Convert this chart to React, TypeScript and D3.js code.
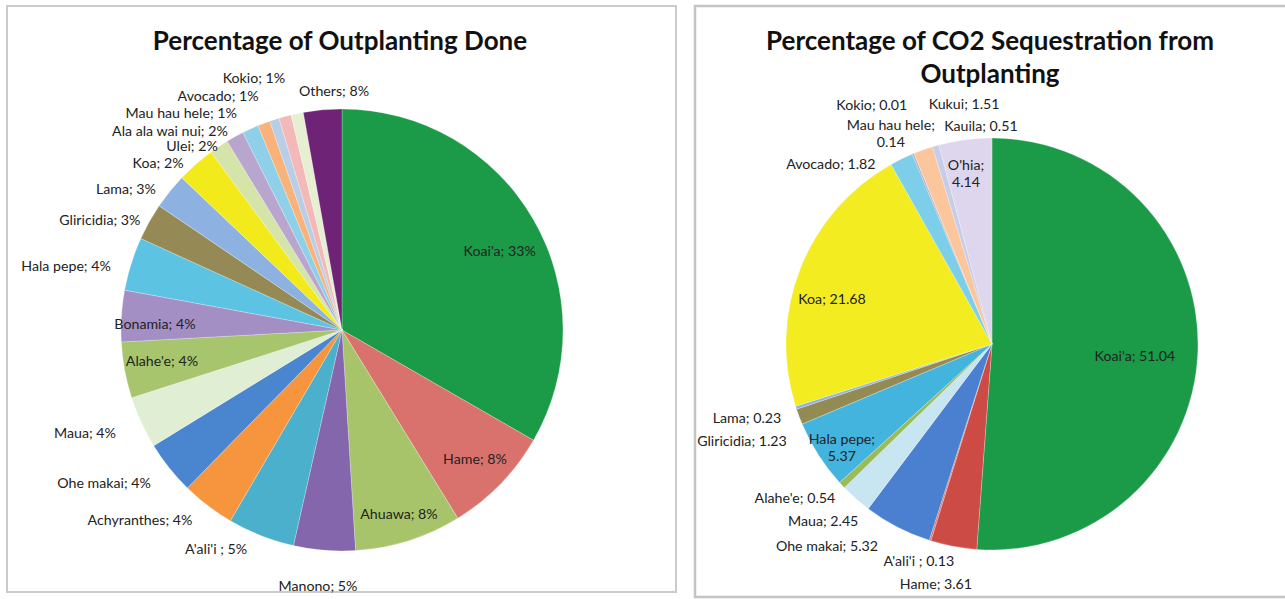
import React from 'react';
import * as d3 from 'd3';

// ---------- Left chart: Percentage of Outplanting Done ----------
const leftNames = ["Koai'a", "Hame", "Ahuawa", "Manono", "A'ali'i ", "Achyranthes", "Ohe makai", "Maua", "Alahe'e", "Bonamia", "Hala pepe", "Gliricidia", "Lama", "Koa", "Ulei", "Ala ala wai nui", "Mau hau hele", "Avocado", "Kokio", "", "", "Others"];
const leftValues = [33.3, 7.9, 7.8, 4.5, 4.9, 3.9, 3.9, 3.8, 4.1, 3.75, 3.9, 2.7, 2.6, 2.8, 1.4, 1.3, 1.2, 0.9, 0.7, 0.9, 0.9, 2.8];
const leftPctText = ["33%", "8%", "8%", "5%", "5%", "4%", "4%", "4%", "4%", "4%", "4%", "3%", "3%", "2%", "2%", "2%", "1%", "1%", "1%", "", "", "8%"];
const leftColors = ["#1b9a47", "#d9726d", "#a8c46b", "#8466ad", "#4bb0cc", "#f7953f", "#4a86cf", "#e0eed4", "#a7c56d", "#a48fc4", "#5cc3e3", "#958a55", "#8db2e2", "#f3ea1b", "#d5e4a8", "#b8a6cf", "#8fd0e8", "#f9b27a", "#b8cde6", "#f2b9b8", "#e6efd2", "#6e2377"];
// label layout: [angle in degrees clockwise from 12 o'clock, distance as fraction of radius]
const leftLabelPolar = [[63.1, 0.80], [133.9, 0.835], [162.7, 0.867], [185.4, 1.159], [210.0, 1.139], [226.9, 1.252], [237.4, 1.278], [248.4, 1.251], [260.5, 0.826], [272.1, 0.847], [283.3, 1.283], [294.6, 1.205], [303.3, 1.17], [312.4, 1.127], [321.0, 1.078], [319.3, 1.194], [323.6, 1.226], [332.2, 1.202], [340.8, 1.212], [0, 0], [0, 0], [358.1, 1.087]];

// ---------- Right chart: Percentage of CO2 Sequestration ----------
const rightNames = ["Koai'a", "Hame", "A'ali'i ", "Ohe makai", "Maua", "Alahe'e", "Hala pepe", "Gliricidia", "Lama", "Koa", "Avocado", "Mau hau hele", "Kokio", "Kukui", "Kauila", "O'hia"];
const rightValues = [51.04, 3.61, 0.13, 5.32, 2.45, 0.54, 5.37, 1.23, 0.23, 21.68, 1.82, 0.14, 0.01, 1.51, 0.51, 4.14];
const rightColors = ["#1b9a47", "#cd4b45", "#d9726d", "#4a80cf", "#c7e6f1", "#9bbb59", "#42b4dd", "#948a54", "#8db2e2", "#f3ec20", "#7dcfe9", "#b3a2c7", "#c0c0c0", "#fbc69b", "#c6cde8", "#ddd6ec"];
const rightLabelPolar = [[94.4, 0.696], [193.2, 1.192], [198.7, 1.107], [219.4, 1.262], [223.8, 1.184], [232.2, 1.211], [235.8, 0.881], [249.0, 1.30], [253.4, 1.241], [286.0, 0.808], [318.3, 1.176], [334.4, 1.136], [333.4, 1.303], [353.4, 1.178], [357.1, 1.065], [351.4, 0.844]];
const rightTwoLine = [false, false, false, false, false, false, true, false, false, false, false, true, false, false, false, true];

const FONT = "Lato, 'Open Sans', sans-serif";

type PieProps = {
  cx: number; cy: number; r: number;
  values: number[]; colors: string[];
  labels: string[][]; polar: number[][];
};

function Pie({ cx, cy, r, values, colors, labels, polar }: PieProps) {
  const pie = d3.pie<number>().sort(null).value((d) => d).startAngle(0).endAngle(2 * Math.PI);
  const arcs = pie(values);
  const arc = d3.arc<d3.PieArcDatum<number>>().innerRadius(0).outerRadius(r);
  return (
    <g>
      <g transform={`translate(${cx},${cy})`}>
        {arcs.map((a, i) => (
          <path key={i} d={arc(a) || ''} fill={colors[i]} stroke="rgba(255,255,255,0.35)" strokeWidth={0.7} />
        ))}
      </g>
      {labels.map((lines, i) => {
        if (!lines.length) return null;
        const ang = (polar[i][0] * Math.PI) / 180;
        const x = cx + Math.sin(ang) * polar[i][1] * r;
        const y = cy - Math.cos(ang) * polar[i][1] * r;
        const lh = 17;
        const y0 = y - ((lines.length - 1) * lh) / 2;
        return (
          <text key={i} x={x} y={y0} textAnchor="middle" dominantBaseline="central" fontFamily={FONT} fontSize={14.2} fill="#222">
            {lines.map((l, j) => (
              <tspan key={j} x={x} y={y0 + j * lh}>{l}</tspan>
            ))}
          </text>
        );
      })}
    </g>
  );
}

export default function App() {
  const leftLabels = leftNames.map((n, i) => (n ? [`${n}; ${leftPctText[i]}`] : []));
  const rightLabels = rightNames.map((n, i) => {
    const v = d3.format('.2f')(rightValues[i]);
    return rightTwoLine[i] ? [`${n};`, v] : [`${n}; ${v}`];
  });
  return (
    <svg width={1285} height={599} style={{ position: 'absolute', left: 0, top: 0, background: '#fff' }}>
      <rect x={7} y={6} width={669} height={586} fill="#fff" stroke="#cbcbcb" strokeWidth={2} />
      <rect x={695} y={6} width={600} height={591} fill="#fff" stroke="#c4c4c4" strokeWidth={2.5} />
      <text x={340} y={40} textAnchor="middle" dominantBaseline="central" fontFamily={FONT} fontWeight={700} fontSize={26} fill="#111">Percentage of Outplanting Done</text>
      <text x={990} y={40} textAnchor="middle" dominantBaseline="central" fontFamily={FONT} fontWeight={700} fontSize={26} fill="#111">Percentage of CO2 Sequestration from</text>
      <text x={990} y={73} textAnchor="middle" dominantBaseline="central" fontFamily={FONT} fontWeight={700} fontSize={26} fill="#111">Outplanting</text>
      <Pie cx={342} cy={330} r={221} values={leftValues} colors={leftColors} labels={leftLabels} polar={leftLabelPolar} />
      <Pie cx={992} cy={344} r={206} values={rightValues} colors={rightColors} labels={rightLabels} polar={rightLabelPolar} />
    </svg>
  );
}
